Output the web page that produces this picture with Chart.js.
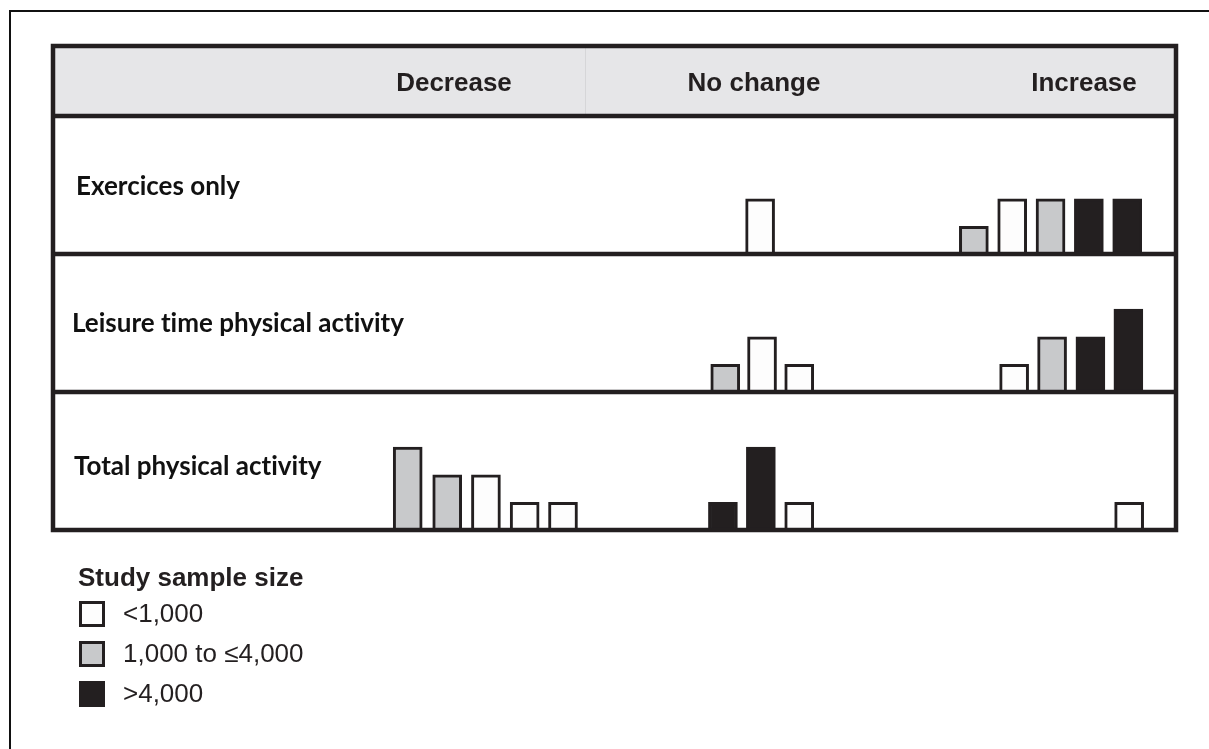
<!DOCTYPE html>
<html>
<head>
<meta charset="utf-8">
<script src="https://cdn.jsdelivr.net/npm/chart.js@4.4.1/dist/chart.umd.min.js"></script>
<style>
  html, body { margin: 0; padding: 0; background: #ffffff; }
  #wrap { position: relative; width: 1209px; height: 749px; overflow: hidden; }
  #frameTop { position: absolute; left: 9px; top: 10px; width: 1200px; height: 2px; background: #111; }
  #frameLeft { position: absolute; left: 9px; top: 10px; width: 2px; height: 739px; background: #111; }
  canvas { position: absolute; left: 0; top: 0; }
  .hdr { position: absolute; top: 66px; font: bold 26px "Liberation Sans", Arial, sans-serif; color: #231f20; transform: translateX(-50%); white-space: nowrap; line-height: 32px; }
  .rowlab { position: absolute; font: bold 26px Lato, "Noto Sans", sans-serif; font-variant-ligatures: none; color: #111; white-space: nowrap; line-height: 30px; }
  #legend { position: absolute; left: 78px; top: 561px; font: 26px "Liberation Sans", Arial, sans-serif; color: #231f20; }
  #legend .title { font-weight: bold; line-height: 32px; height: 32px; }
  #legend .item { position: relative; height: 40px; line-height: 28px; padding-left: 45px; }
  #legend .sw { position: absolute; left: 1px; top: 8px; width: 26px; height: 26px; box-sizing: border-box; border: 3px solid #231f20; }
  #legend .txt { position: relative; top: 6px; }
</style>
</head>
<body>
<div id="wrap">
  <canvas id="c" width="1209" height="749"></canvas>
  <div id="frameTop"></div>
  <div id="frameLeft"></div>
  <div id="overlay"></div>
  <div id="legend"></div>
</div>
<script>
// ---------------- data ----------------
const columns = ["Decrease", "No change", "Increase"];
const rowLabels = ["Exercices only", "Leisure time physical activity", "Total physical activity"];
const legendTitle = "Study sample size";
const sizeClasses = ["<1,000", "1,000 to \u22644,000", ">4,000"];

// Each study: slot along the Decrease / No change / Increase axis, bar height (level), sample-size class
const exerciseSlot  = [18.26, 23.78, 24.77, 25.76, 26.75, 27.74];
const exerciseLevel = [2, 1, 2, 2, 2, 2];
const exerciseSize  = [0, 1, 0, 1, 2, 2];

const leisureSlot  = [17.36, 18.31, 19.27, 24.82, 25.80, 26.79, 27.77];
const leisureLevel = [1, 2, 1, 1, 2, 2, 3];
const leisureSize  = [1, 0, 0, 0, 1, 2, 2];

const totalSlot  = [9.16, 10.18, 11.18, 12.18, 13.17, 17.30, 18.28, 19.27, 27.79];
const totalLevel = [3, 2, 2, 1, 1, 1, 3, 1, 1];
const totalSize  = [1, 1, 0, 0, 0, 2, 2, 0, 0];

// ---------------- styling ----------------
const INK = "#231f20";
const sizeFill = ["#fdfdfd", "#c8c9cb", "#231f20"];
const ROW_SPAN = 5;           // value units per row panel
const X_MAX = 29;             // slot range

const rowsData = [
  { slot: exerciseSlot, level: exerciseLevel, size: exerciseSize },
  { slot: leisureSlot,  level: leisureLevel,  size: leisureSize },
  { slot: totalSlot,    level: totalLevel,    size: totalSize }
];
const nRows = rowsData.length;

const datasets = sizeClasses.map((label, k) => {
  const pts = [];
  rowsData.forEach((r, ri) => {
    const base = (nRows - 1 - ri) * ROW_SPAN;
    r.slot.forEach((s, i) => {
      if (r.size[i] === k) pts.push({ x: s, y: [base, base + r.level[i]] });
    });
  });
  return {
    label,
    data: pts,
    backgroundColor: sizeFill[k],
    borderColor: INK,
    borderWidth: 3,
    borderSkipped: 'start',
    barThickness: 29,
    grouped: false
  };
});

const framePlugin = {
  id: 'harvestFrame',
  beforeDatasetsDraw(chart) {
    const { ctx, chartArea: a } = chart;
    ctx.save();
    ctx.fillStyle = "#e6e6e8";
    ctx.fillRect(a.left, a.top - 70, a.right - a.left, 70);
    ctx.strokeStyle = "#d6d6d8";
    ctx.lineWidth = 1;
    ctx.beginPath();
    ctx.moveTo(585.5, a.top - 68);
    ctx.lineTo(585.5, a.top - 2);
    ctx.stroke();
    ctx.restore();
  },
  afterDatasetsDraw(chart) {
    const { ctx, chartArea: a, scales } = chart;
    ctx.save();
    ctx.strokeStyle = INK;
    ctx.lineWidth = 4.5;
    ctx.strokeRect(a.left, a.top - 70, a.right - a.left, a.bottom - a.top + 70);
    ctx.beginPath();
    ctx.moveTo(a.left, a.top);
    ctx.lineTo(a.right, a.top);
    for (let r = 1; r < nRows; r++) {
      const y = scales.y.getPixelForValue(r * ROW_SPAN);
      ctx.moveTo(a.left, y);
      ctx.lineTo(a.right, y);
    }
    ctx.stroke();
    ctx.restore();
  }
};

new Chart(document.getElementById('c'), {
  type: 'bar',
  data: { datasets },
  options: {
    responsive: false,
    animation: false,
    events: [],
    layout: { padding: { left: 53, right: 33, top: 116, bottom: 219 } },
    plugins: { legend: { display: false }, tooltip: { enabled: false } },
    scales: {
      x: { type: 'linear', min: 0, max: X_MAX, offset: false, display: false },
      y: { type: 'linear', min: 0, max: nRows * ROW_SPAN, display: false }
    }
  },
  plugins: [framePlugin]
});

// ---------------- text overlays ----------------
const overlay = document.getElementById('overlay');
const hdrX = [454, 754, 1084];
columns.forEach((c, i) => {
  const d = document.createElement('div');
  d.className = 'hdr';
  d.style.left = hdrX[i] + 'px';
  d.textContent = c;
  overlay.appendChild(d);
});
const labPos = [[76, 170], [72, 307], [74, 450]];
rowLabels.forEach((t, i) => {
  const d = document.createElement('div');
  d.className = 'rowlab';
  d.style.left = labPos[i][0] + 'px';
  d.style.top = labPos[i][1] + 'px';
  d.textContent = t;
  overlay.appendChild(d);
});

const legend = document.getElementById('legend');
const title = document.createElement('div');
title.className = 'title';
title.textContent = legendTitle;
legend.appendChild(title);
sizeClasses.forEach((s, k) => {
  const it = document.createElement('div');
  it.className = 'item';
  const sw = document.createElement('span');
  sw.className = 'sw';
  sw.style.background = sizeFill[k];
  const tx = document.createElement('span');
  tx.className = 'txt';
  tx.textContent = s;
  it.appendChild(sw);
  it.appendChild(tx);
  legend.appendChild(it);
});
</script>
</body>
</html>
